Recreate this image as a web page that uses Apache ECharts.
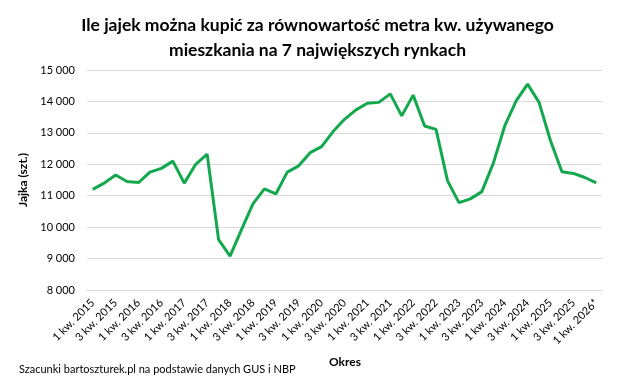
<!DOCTYPE html>
<html><head><meta charset="utf-8">
<script src="https://cdn.jsdelivr.net/npm/echarts@6/dist/echarts.min.js"></script>
<style>html,body{margin:0;padding:0;background:#fff}#c{width:635px;height:386px}</style>
</head><body><div id="c"></div>
<script>
const titleText = 'Ile jajek można kupić za równowartość metra kw. używanego\nmieszkania na 7 największych rynkach';
const yAxisName = 'Jajka (szt.)';
const xAxisName = 'Okres';
const sourceText = 'Szacunki bartoszturek.pl na podstawie danych GUS i NBP';
const years = [2015,2016,2017,2018,2019,2020,2021,2022,2023,2024,2025];
const categories = [];
years.forEach(y => { for (let q = 1; q <= 4; q++) categories.push(q + ' kw. ' + y); });
categories.push('1 kw. 2026*');
const values = [
  11200, 11400, 11660, 11450, 11420, 11750, 11870, 12100,
  11400, 12000, 12320, 9600, 9080, 9920, 10740, 11215,
  11055, 11750, 11950, 12370, 12560, 13040, 13430, 13730,
  13940, 13970, 14240, 13540, 14200, 13220, 13110, 11480,
  10780, 10900, 11130, 12030, 13220, 14020, 14550, 13970,
  12750, 11760, 11710, 11580, 11410
];
const yMin = 8000, yMax = 15000, yStep = 1000;

const chart = echarts.init(document.getElementById('c'));
chart.setOption({
  animation: false,
  textStyle: { fontFamily: 'Lato' },
  title: {
    text: titleText, left: 'center', top: 8,
    textStyle: { fontFamily: 'Lato', fontWeight: 'bold', fontSize: 17.5, color: '#000', lineHeight: 25 }
  },
  graphic: [
    { type: 'text', left: 19, top: 364, style: { text: sourceText, fontFamily: 'Lato', fontSize: 11, fill: '#000' } },
    { type: 'text', left: 329, top: 356, style: { text: xAxisName, fontFamily: 'Lato', fontSize: 12, fontWeight: 'bold', fill: '#000' } }
  ],
  grid: { left: 87, right: 33, top: 70, bottom: 96 },
  xAxis: {
    type: 'category', data: categories, boundaryGap: true,
    axisLine: { lineStyle: { color: '#d9d9d9' } },
    axisTick: { show: false },
    axisLabel: { interval: 1, rotate: 45, fontSize: 11, color: '#000', fontFamily: 'Lato', margin: 11 }
  },
  yAxis: {
    type: 'value', min: yMin, max: yMax, interval: yStep,
    name: yAxisName, nameLocation: 'middle', nameGap: 56, nameRotate: 90,
    nameTextStyle: { fontWeight: 'bold', fontSize: 12, color: '#000', fontFamily: 'Lato' },
    axisLabel: { fontSize: 11, color: '#000', fontFamily: 'Lato', margin: 12,
      formatter: v => String(v).replace(/\B(?=(\d{3})+(?!\d))/g, ' ') },
    splitLine: { lineStyle: { color: '#d9d9d9' } }
  },
  series: [{
    type: 'line', data: values, symbol: 'none',
    lineStyle: { color: '#14a84e', width: 3 }
  }]
});
</script></body></html>
